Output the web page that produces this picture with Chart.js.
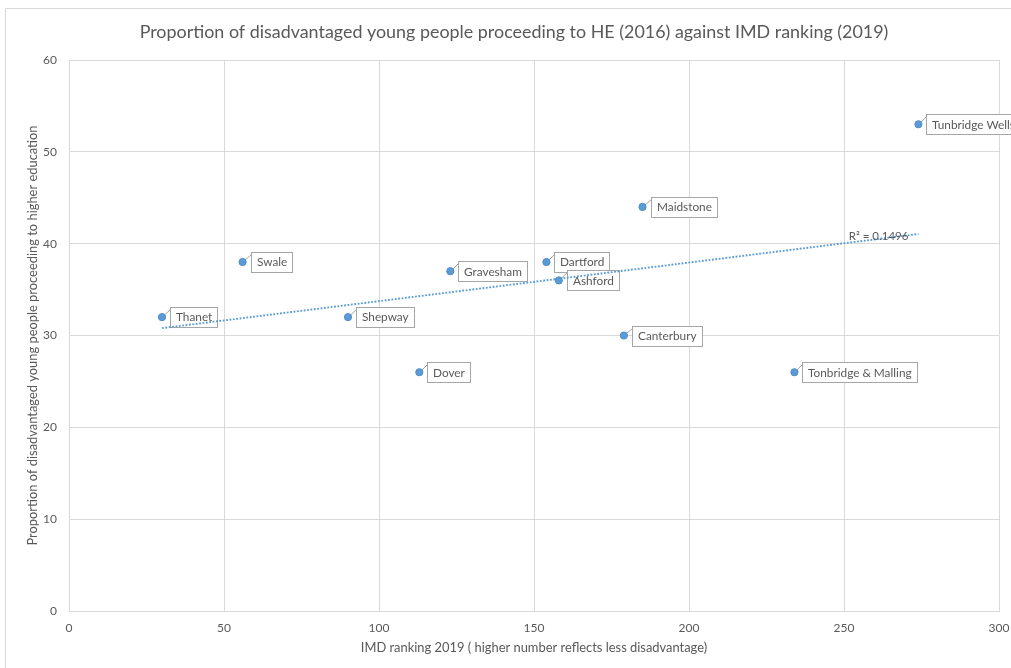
<!DOCTYPE html>
<html>
<head>
<meta charset="utf-8">
<script src="https://cdn.jsdelivr.net/npm/chart.js@4.4.1/dist/chart.umd.min.js"></script>
<style>
  html, body { margin: 0; padding: 0; background: #fff; overflow: hidden; }
  #wrap { width: 1011px; height: 668px; position: relative; }
</style>
</head>
<body>
<div id="wrap"><canvas id="c" width="1011" height="668"></canvas></div>
<script>
// Kent districts: IMD 2019 ranking vs share of disadvantaged young people entering HE (2016)
const districts = ['Thanet', 'Swale', 'Shepway', 'Dover', 'Gravesham', 'Dartford', 'Ashford',
                   'Canterbury', 'Maidstone', 'Tonbridge & Malling', 'Tunbridge Wells'];
const imdRank = [30, 56, 90, 113, 123, 154, 158, 179, 185, 234, 274];
const heProportion = [32, 38, 32, 26, 37, 38, 36, 30, 44, 26, 53];

const xTicks = [0, 50, 100, 150, 200, 250, 300];
const yTicks = [0, 10, 20, 30, 40, 50, 60];

const chartTitle = 'Proportion of disadvantaged young people proceeding to HE (2016) against IMD ranking (2019)';
const xAxisTitle = 'IMD ranking 2019 ( higher number reflects less disadvantage)';
const yAxisTitle = 'Proportion of disadvantaged young people proceeding to higher education';
const rSquaredLabel = 'R\u00B2 = 0.1496';

const FONT = 'Lato, "Open Sans", sans-serif';
const TEXT = '#595959';
const GRID = '#d9d9d9';
const BLUE = '#5b9bd5';

// Least-squares linear trend across the plotted points
function linearFit(xs, ys) {
  const n = xs.length;
  const mx = xs.reduce((a, b) => a + b, 0) / n;
  const my = ys.reduce((a, b) => a + b, 0) / n;
  let sxy = 0, sxx = 0;
  for (let i = 0; i < n; i++) { sxy += (xs[i] - mx) * (ys[i] - my); sxx += (xs[i] - mx) ** 2; }
  const slope = sxy / sxx;
  return { slope, intercept: my - slope * mx };
}
const fit = linearFit(imdRank, heProportion);
const xMin = Math.min(...imdRank), xMax = Math.max(...imdRank);
const trend = [xMin, xMax].map(x => ({ x, y: fit.intercept + fit.slope * x }));

const points = imdRank.map((x, i) => ({ x, y: heProportion[i] }));

// Frame, title and white background
const framePlugin = {
  id: 'frame',
  beforeDraw(chart) {
    const ctx = chart.ctx;
    ctx.save();
    ctx.fillStyle = '#fff';
    ctx.fillRect(0, 0, chart.width, chart.height);
    ctx.strokeStyle = GRID;
    ctx.lineWidth = 1;
    ctx.strokeRect(5.5, 8.5, 1200, 1000);
    ctx.fillStyle = TEXT;
    ctx.font = '17.9px ' + FONT;
    ctx.textAlign = 'center';
    ctx.textBaseline = 'middle';
    ctx.fillText(chartTitle, 514, 32);
    ctx.restore();
  }
};

// Callout boxes naming each district, placed to the right of its point
const calloutPlugin = {
  id: 'callouts',
  beforeDatasetsDraw(chart) {
    const ctx = chart.ctx;
    const meta = chart.getDatasetMeta(0);
    ctx.save();
    ctx.font = '11.8px ' + FONT;
    ctx.textBaseline = 'middle';
    ctx.textAlign = 'left';
    meta.data.forEach((el, i) => {
      const px = el.x, py = el.y;
      const label = districts[i];
      const w = Math.round(ctx.measureText(label).width) + 11;
      const h = 20;
      const L = Math.round(px + 8) + 0.5;
      const T = Math.round(py - h / 2) + 0.5;
      ctx.fillStyle = '#fff';
      ctx.fillRect(L, T, w, h);
      ctx.strokeStyle = '#a6a6a6';
      ctx.lineWidth = 1;
      ctx.strokeRect(L, T, w, h);
      ctx.beginPath();
      ctx.moveTo(px + 2.5, py - 2);
      ctx.lineTo(L, T + 2);
      ctx.stroke();
      ctx.fillStyle = TEXT;
      ctx.fillText(label, L + 5.5, py + 0.5);
    });
    ctx.restore();
  },
  afterDatasetsDraw(chart) {
    const ctx = chart.ctx;
    const meta = chart.getDatasetMeta(1);
    const end = meta.data[meta.data.length - 1];
    ctx.save();
    ctx.font = '11.5px ' + FONT;
    ctx.fillStyle = TEXT;
    ctx.textAlign = 'right';
    ctx.textBaseline = 'middle';
    ctx.fillText(rSquaredLabel, end.x - 10, end.y + 2);
    ctx.restore();
  }
};

new Chart(document.getElementById('c'), {
  type: 'scatter',
  data: {
    datasets: [
      {
        label: 'Districts',
        data: points,
        pointRadius: 3.6,
        pointBackgroundColor: BLUE,
        pointBorderColor: '#4f8fcb',
        pointBorderWidth: 1,
        showLine: false
      },
      {
        label: 'Linear trend',
        type: 'line',
        data: trend,
        borderColor: BLUE,
        borderWidth: 1.9,
        borderDash: [1.8, 1.6],
        pointRadius: 0,
        fill: false
      }
    ]
  },
  options: {
    responsive: false,
    animation: false,
    devicePixelRatio: 1,
    layout: { padding: { left: 0, right: 12, top: 60, bottom: 0 } },
    plugins: { legend: { display: false }, tooltip: { enabled: false }, title: { display: false } },
    scales: {
      x: {
        type: 'linear',
        min: xTicks[0], max: xTicks[xTicks.length - 1],
        afterBuildTicks(scale) { scale.ticks = xTicks.map(v => ({ value: v })); },
        afterFit(scale) { scale.height = 57; scale.paddingLeft = 0; scale.paddingRight = 0; },
        grid: { color: GRID, drawTicks: false },
        border: { color: GRID },
        ticks: { color: TEXT, font: { family: FONT, size: 12 }, padding: 10, maxRotation: 0 },
        title: { display: true, text: xAxisTitle, color: TEXT, font: { family: FONT, size: 12.9 }, padding: { top: 0, bottom: 12 } }
      },
      y: {
        type: 'linear',
        min: yTicks[0], max: yTicks[yTicks.length - 1],
        afterBuildTicks(scale) { scale.ticks = yTicks.map(v => ({ value: v })); },
        afterFit(scale) { scale.width = 69; scale.paddingTop = 0; scale.paddingBottom = 0; },
        grid: { color: GRID, drawTicks: false },
        border: { color: GRID },
        ticks: { color: TEXT, font: { family: FONT, size: 12 }, padding: 12 },
        title: { display: true, text: yAxisTitle, color: TEXT, font: { family: FONT, size: 12.9 }, padding: { top: 25, bottom: 0 } }
      }
    }
  },
  plugins: [framePlugin, calloutPlugin]
});
</script>
</body>
</html>
